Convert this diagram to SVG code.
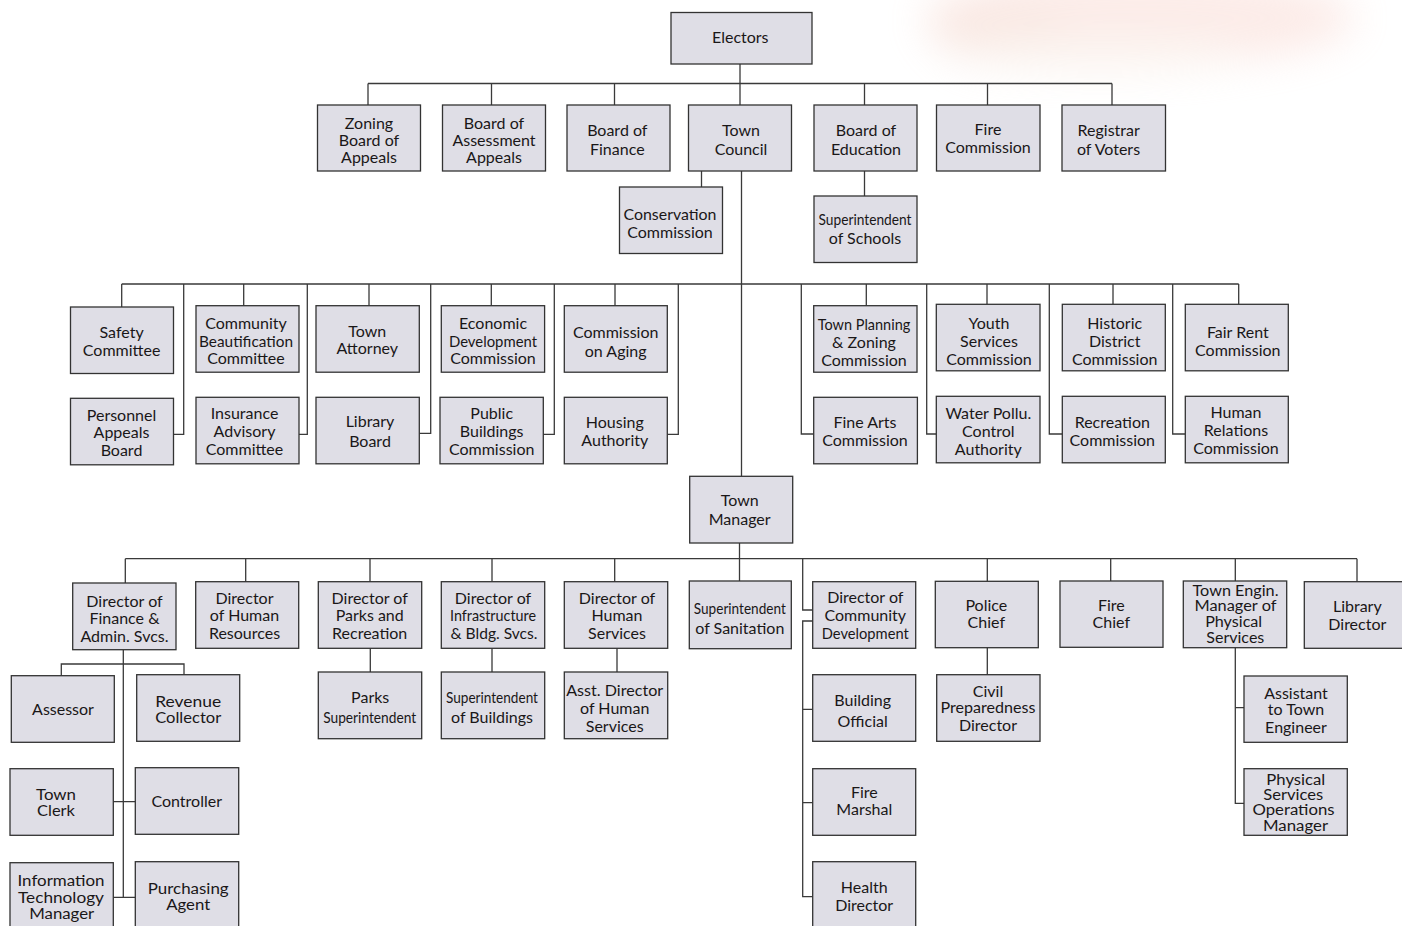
<svg xmlns="http://www.w3.org/2000/svg" width="1402" height="926" viewBox="0 0 1402 926">
<style>
.bx{fill:#dfdee6;stroke:#333;stroke-width:1.3}
.t{font-family:Lato,"Open Sans","Liberation Sans",sans-serif;font-size:16px;fill:#1a1718;text-anchor:middle;dominant-baseline:central}
.s{font-size:14.5px}
.c{fill:none;stroke:#3a3a3a;stroke-width:1.3}
</style>
<defs>
<filter id="blur" x="-50%" y="-100%" width="200%" height="300%"><feGaussianBlur stdDeviation="20"/></filter>
</defs>
<rect width="1402" height="926" fill="#fff"/>
<g id="bg-blob" filter="url(#blur)" opacity="0.4">
<ellipse cx="1140" cy="18" rx="215" ry="48" fill="#f8cfc6"/>
<ellipse cx="1000" cy="30" rx="70" ry="26" fill="#efc6b8"/>
<ellipse cx="1100" cy="55" rx="150" ry="18" fill="#f6e6dc"/>
</g>
<g id="connectors">
<path class="c" d="M368,83.5H1112M368,83.5V105M491.5,83.5V105M614.5,83.5V105M740,64V105M864.5,83.5V105M987.5,83.5V105M1112,83.5V105"/>
<path class="c" d="M701.5,171V187M741.5,171V476.3M864.5,171V196"/>
<path class="c" d="M121.7,284H1238.7M121.7,284V307M243.7,284V305.7M369,284V305.7M491.3,284V305.7M615,284V305.7M866.3,284V305.7M987,284V304.3M1113,284V304.3M1238.7,284V304.3"/>
<path class="c" d="M183.7,284V434.3H173.5M307.3,284V434.3H299M430.7,284V433.3H419.3M554.3,284V434.3H543.3M678.3,284V434.3H667.3M801.3,284V434H813.7M926.7,284V434H936.3M1049.3,284V434H1062.3M1172.7,284V434H1185.3"/>
<path class="c" d="M739.5,543V581M125.3,558.7H1357M125.3,558.7V583M245.7,558.7V581.7M370,558.7V581.7M492,558.7V581.7M614.7,558.7V581.7M987.3,558.7V581.3M1110.7,558.7V581M1235.3,558.7V581M1357,558.7V581.7"/>
<path class="c" d="M802.7,558.7V610H812.7M812.7,621H802.7V896.7H812.7M802.7,709.3H812.7M802.7,802.7H812.7"/>
<path class="c" d="M123.3,649.7V897.3M61.3,675.7V664H184V674.7M113.3,801.7H135.3M113.3,897.3H135.3"/>
<path class="c" d="M370.3,648.3V672M492,648.3V672M617,648.3V672M987.3,647.7V674.7M1235.3,647.7V803.3H1244M1235.3,707.7H1244"/>
</g>
<g id="electors"><rect class="bx" x="671" y="12.5" width="141" height="51.5"/><text class="t" x="740.3" y="36.7">Electors</text></g>
<g id="zoning"><rect class="bx" x="317.5" y="105" width="103" height="66"/><text class="t" x="369" y="122.3">Zoning</text><text class="t" x="369" y="139.5">Board of</text><text class="t" x="369" y="156.7">Appeals</text></g>
<g id="assessment"><rect class="bx" x="442.5" y="105" width="103" height="66"/><text class="t" x="494" y="122.3">Board of</text><text class="t" x="494" y="139.5">Assessment</text><text class="t" x="494" y="156.7">Appeals</text></g>
<g id="board-finance"><rect class="bx" x="567" y="105" width="103" height="66"/><text class="t" x="617.3" y="129">Board of</text><text class="t" x="617.3" y="148.7">Finance</text></g>
<g id="town-council"><rect class="bx" x="688.5" y="105" width="103" height="66"/><text class="t" x="741" y="129">Town</text><text class="t" x="741" y="148.7">Council</text></g>
<g id="board-education"><rect class="bx" x="814" y="105" width="103" height="66"/><text class="t" x="866" y="129">Board of</text><text class="t" x="866" y="148.7">Education</text></g>
<g id="fire-commission"><rect class="bx" x="936.5" y="105" width="103.5" height="66"/><text class="t" x="988" y="128">Fire</text><text class="t" x="988" y="146">Commission</text></g>
<g id="registrar"><rect class="bx" x="1062" y="105" width="103.5" height="66"/><text class="t" x="1108.7" y="129.3">Registrar</text><text class="t" x="1108.5" y="148.7">of Voters</text></g>
<g id="conservation"><rect class="bx" x="619.5" y="187" width="103" height="66.5"/><text class="t" x="670" y="213.3" textLength="93" lengthAdjust="spacingAndGlyphs">Conservation</text><text class="t" x="670" y="231">Commission</text></g>
<g id="supt-schools"><rect class="bx" x="814" y="196" width="103" height="66.5"/><text class="t" x="865" y="218.3" textLength="93" lengthAdjust="spacingAndGlyphs">Superintendent</text><text class="t" x="865" y="237.7">of Schools</text></g>

<g id="safety"><rect class="bx" x="70.5" y="307" width="103" height="66.5"/><text class="t" x="121.6" y="331.7">Safety</text><text class="t" x="121.6" y="349.3">Committee</text></g>
<g id="beautification"><rect class="bx" x="196" y="305.7" width="103" height="66.5"/><text class="t" x="246" y="322.7">Community</text><text class="t" x="246" y="340.5" textLength="94" lengthAdjust="spacingAndGlyphs">Beautification</text><text class="t" x="246" y="357.7">Committee</text></g>
<g id="attorney"><rect class="bx" x="316" y="305.7" width="103.3" height="66.5"/><text class="t" x="367.3" y="330">Town</text><text class="t" x="367.3" y="347.3">Attorney</text></g>
<g id="economic"><rect class="bx" x="441.3" y="305.7" width="103.3" height="66.5"/><text class="t" x="493" y="322.3">Economic</text><text class="t" x="493" y="340" textLength="88" lengthAdjust="spacingAndGlyphs">Development</text><text class="t" x="493" y="357.3">Commission</text></g>
<g id="aging"><rect class="bx" x="564.3" y="305.7" width="103" height="66.5"/><text class="t" x="615.7" y="331.3">Commission</text><text class="t" x="615.7" y="350">on Aging</text></g>
<g id="planning"><rect class="bx" x="813.7" y="305.7" width="103.3" height="66.5"/><text class="t" x="864" y="323.3" textLength="92.6" lengthAdjust="spacingAndGlyphs">Town Planning</text><text class="t" x="864" y="341.7">&amp; Zoning</text><text class="t" x="864" y="359">Commission</text></g>
<g id="youth"><rect class="bx" x="936.3" y="304.3" width="103.7" height="66.5"/><text class="t" x="989" y="322.3">Youth</text><text class="t" x="989" y="340.3">Services</text><text class="t" x="989" y="358.3">Commission</text></g>
<g id="historic"><rect class="bx" x="1062.3" y="304.3" width="103" height="66.5"/><text class="t" x="1114.7" y="322.3">Historic</text><text class="t" x="1114.7" y="340.3">District</text><text class="t" x="1114.7" y="358.3">Commission</text></g>
<g id="fair-rent"><rect class="bx" x="1185.3" y="304.3" width="103" height="66.5"/><text class="t" x="1237.8" y="331.3">Fair Rent</text><text class="t" x="1237.8" y="349.3">Commission</text></g>

<g id="personnel"><rect class="bx" x="70.5" y="398.3" width="103" height="66.5"/><text class="t" x="121.5" y="414.3">Personnel</text><text class="t" x="121.5" y="431.7">Appeals</text><text class="t" x="121.5" y="449.3">Board</text></g>
<g id="insurance"><rect class="bx" x="196" y="397.3" width="103" height="66.5"/><text class="t" x="244.5" y="412.7">Insurance</text><text class="t" x="244.5" y="430.3">Advisory</text><text class="t" x="244.5" y="448">Committee</text></g>
<g id="library-board"><rect class="bx" x="316" y="397.3" width="103.3" height="66.5"/><text class="t" x="370" y="420.7">Library</text><text class="t" x="370" y="440">Board</text></g>
<g id="public-buildings"><rect class="bx" x="440" y="397.3" width="103.3" height="66.5"/><text class="t" x="491.7" y="412.5">Public</text><text class="t" x="491.7" y="430.3">Buildings</text><text class="t" x="491.7" y="448">Commission</text></g>
<g id="housing"><rect class="bx" x="564.3" y="397.3" width="103" height="66.5"/><text class="t" x="614.8" y="421.7">Housing</text><text class="t" x="614.8" y="439">Authority</text></g>
<g id="fine-arts"><rect class="bx" x="813.7" y="397.3" width="103.7" height="66.5"/><text class="t" x="865" y="421.7">Fine Arts</text><text class="t" x="865" y="439.3">Commission</text></g>
<g id="water"><rect class="bx" x="936.3" y="396.3" width="103.7" height="66.5"/><text class="t" x="988.3" y="412.3">Water Pollu.</text><text class="t" x="988.3" y="430.3">Control</text><text class="t" x="988.3" y="448">Authority</text></g>
<g id="recreation"><rect class="bx" x="1062.3" y="396.3" width="103" height="66.5"/><text class="t" x="1112.3" y="421">Recreation</text><text class="t" x="1112.3" y="439">Commission</text></g>
<g id="human-relations"><rect class="bx" x="1185.3" y="396.3" width="103" height="66.5"/><text class="t" x="1236" y="411.3">Human</text><text class="t" x="1236" y="429.3">Relations</text><text class="t" x="1236" y="447">Commission</text></g>

<g id="town-manager"><rect class="bx" x="689.7" y="476.3" width="103" height="66.7"/><text class="t" x="739.7" y="499.3">Town</text><text class="t" x="739.7" y="518">Manager</text></g>

<g id="dir-finance"><rect class="bx" x="72.7" y="583" width="103.3" height="66.7"/><text class="t" x="124.5" y="600.3">Director of</text><text class="t" x="124.5" y="617.7">Finance &amp;</text><text class="t" x="124.5" y="635.7">Admin. Svcs.</text></g>
<g id="dir-hr"><rect class="bx" x="195.7" y="581.7" width="103" height="66.6"/><text class="t" x="244.5" y="597.3">Director</text><text class="t" x="244.5" y="614.3">of Human</text><text class="t" x="244.5" y="632.3">Resources</text></g>
<g id="dir-parks"><rect class="bx" x="318.3" y="581.7" width="103.4" height="66.6"/><text class="t" x="369.7" y="597.3">Director of</text><text class="t" x="369.7" y="614.3">Parks and</text><text class="t" x="369.7" y="632.3">Recreation</text></g>
<g id="dir-infra"><rect class="bx" x="441.3" y="581.7" width="103.4" height="66.6"/><text class="t" x="493" y="597.3">Director of</text><text class="t" x="493" y="614.3" textLength="86" lengthAdjust="spacingAndGlyphs">Infrastructure</text><text class="t" x="494" y="632.3" textLength="87" lengthAdjust="spacingAndGlyphs">&amp; Bldg. Svcs.</text></g>
<g id="dir-human-services"><rect class="bx" x="564.3" y="581.7" width="103.4" height="66.6"/><text class="t" x="617" y="597.3">Director of</text><text class="t" x="617" y="614.3">Human</text><text class="t" x="617" y="632.3">Services</text></g>
<g id="supt-sanitation"><rect class="bx" x="689.3" y="581" width="102" height="67.7"/><text class="t" x="739.8" y="607.7" textLength="92" lengthAdjust="spacingAndGlyphs">Superintendent</text><text class="t" x="739.8" y="627.3">of Sanitation</text></g>
<g id="dir-community-dev"><rect class="bx" x="812.7" y="581.7" width="103" height="66.6"/><text class="t" x="865.3" y="596">Director of</text><text class="t" x="865.3" y="614.3">Community</text><text class="t" x="865.3" y="632.3" textLength="87" lengthAdjust="spacingAndGlyphs">Development</text></g>
<g id="police-chief"><rect class="bx" x="935.3" y="581.3" width="103" height="66.4"/><text class="t" x="986.3" y="604.3">Police</text><text class="t" x="986.3" y="621.7">Chief</text></g>
<g id="fire-chief"><rect class="bx" x="1060" y="581" width="103" height="66.3"/><text class="t" x="1111.3" y="604">Fire</text><text class="t" x="1111.3" y="621.7">Chief</text></g>
<g id="town-engineer"><rect class="bx" x="1183.3" y="581" width="103.4" height="66.7"/><text class="t s" x="1235.5" y="590" textLength="86" lengthAdjust="spacingAndGlyphs">Town Engin.</text><text class="t s" x="1235.5" y="605.7" textLength="82" lengthAdjust="spacingAndGlyphs">Manager of</text><text class="t s" x="1233.7" y="621.3" textLength="57" lengthAdjust="spacingAndGlyphs">Physical</text><text class="t s" x="1235.3" y="637.3" textLength="58" lengthAdjust="spacingAndGlyphs">Services</text></g>
<g id="library-director"><rect class="bx" x="1304.3" y="581.7" width="100" height="66.6"/><text class="t" x="1357.3" y="605.7">Library</text><text class="t" x="1357.3" y="623">Director</text></g>

<g id="assessor"><rect class="bx" x="11.3" y="675.7" width="103" height="66.6"/><text class="t" x="63" y="708.3">Assessor</text></g>
<g id="revenue"><rect class="bx" x="136.7" y="674.7" width="103" height="66.6"/><text class="t s" x="188.2" y="701.7" textLength="66" lengthAdjust="spacingAndGlyphs">Revenue</text><text class="t s" x="188.2" y="717.3" textLength="66" lengthAdjust="spacingAndGlyphs">Collector</text></g>
<g id="town-clerk"><rect class="bx" x="10" y="768.7" width="103.3" height="66.6"/><text class="t s" x="56" y="794.3" textLength="40" lengthAdjust="spacingAndGlyphs">Town</text><text class="t s" x="56" y="810" textLength="38" lengthAdjust="spacingAndGlyphs">Clerk</text></g>
<g id="controller"><rect class="bx" x="135.3" y="767.7" width="103.4" height="66.6"/><text class="t" x="186.7" y="800">Controller</text></g>
<g id="it-manager"><rect class="bx" x="10" y="862.7" width="103.3" height="70"/><text class="t s" x="61" y="880.3" textLength="87" lengthAdjust="spacingAndGlyphs">Information</text><text class="t s" x="61" y="897.3" textLength="86" lengthAdjust="spacingAndGlyphs">Technology</text><text class="t s" x="61.7" y="913.3" textLength="65" lengthAdjust="spacingAndGlyphs">Manager</text></g>
<g id="purchasing"><rect class="bx" x="135.3" y="861.7" width="103.4" height="70"/><text class="t s" x="188.2" y="888.7" textLength="81" lengthAdjust="spacingAndGlyphs">Purchasing</text><text class="t s" x="188.2" y="904.3" textLength="44" lengthAdjust="spacingAndGlyphs">Agent</text></g>
<g id="parks-supt"><rect class="bx" x="318.3" y="672" width="103.4" height="66.7"/><text class="t" x="370.2" y="696.3">Parks</text><text class="t" x="369.7" y="716.7" textLength="93" lengthAdjust="spacingAndGlyphs">Superintendent</text></g>
<g id="bldg-supt"><rect class="bx" x="441.3" y="672" width="103.4" height="66.7"/><text class="t" x="492" y="696.3" textLength="92" lengthAdjust="spacingAndGlyphs">Superintendent</text><text class="t" x="492" y="716.7">of Buildings</text></g>
<g id="asst-human-services"><rect class="bx" x="564.3" y="672" width="103.4" height="66.7"/><text class="t" x="614.7" y="689.7" textLength="97" lengthAdjust="spacingAndGlyphs">Asst. Director</text><text class="t" x="614.7" y="707.3">of Human</text><text class="t" x="614.7" y="725.3">Services</text></g>
<g id="building-official"><rect class="bx" x="812.7" y="674.7" width="103" height="66.6"/><text class="t" x="862.7" y="699.7">Building</text><text class="t" x="862.7" y="720">Official</text></g>
<g id="fire-marshal"><rect class="bx" x="812.7" y="768.7" width="103" height="66.6"/><text class="t" x="864.3" y="791.3">Fire</text><text class="t" x="864.3" y="808.3">Marshal</text></g>
<g id="health-director"><rect class="bx" x="812.7" y="861.7" width="103" height="70"/><text class="t" x="864.2" y="886.7">Health</text><text class="t" x="864.2" y="904.3">Director</text></g>
<g id="civil-preparedness"><rect class="bx" x="936.7" y="674.7" width="103.3" height="66.6"/><text class="t" x="988" y="690.3">Civil</text><text class="t" x="988" y="706.7" textLength="95" lengthAdjust="spacingAndGlyphs">Preparedness</text><text class="t" x="988" y="724.3">Director</text></g>
<g id="assistant-engineer"><rect class="bx" x="1244" y="676" width="103.3" height="66.3"/><text class="t" x="1296" y="692">Assistant</text><text class="t" x="1296" y="708.7">to Town</text><text class="t" x="1296" y="726.3">Engineer</text></g>
<g id="physical-ops"><rect class="bx" x="1244" y="768.7" width="103.3" height="66.6"/><text class="t s" x="1295.8" y="779.7" textLength="59" lengthAdjust="spacingAndGlyphs">Physical</text><text class="t s" x="1293.2" y="794.7" textLength="60" lengthAdjust="spacingAndGlyphs">Services</text><text class="t s" x="1293.5" y="809.7" textLength="82" lengthAdjust="spacingAndGlyphs">Operations</text><text class="t s" x="1295.5" y="825.7" textLength="65" lengthAdjust="spacingAndGlyphs">Manager</text></g>
</svg>
